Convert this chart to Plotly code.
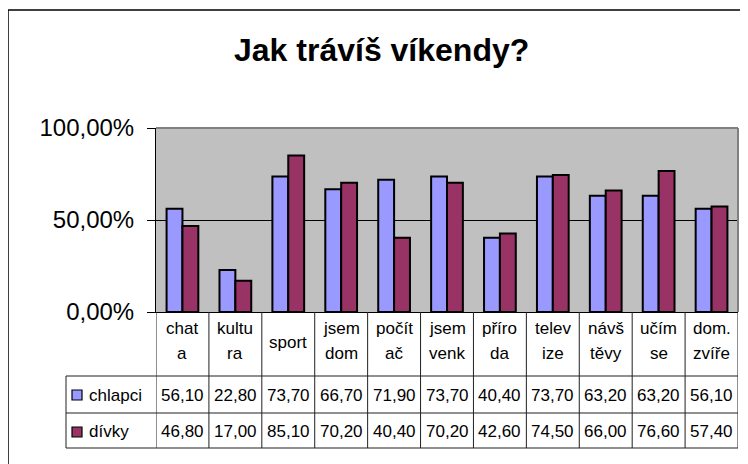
import plotly.graph_objects as go

categories = ["chata", "kultura", "sport", "jsem dom", "počítač", "jsem venk",
              "příroda", "televize", "návštěvy", "učím se", "dom. zvíře"]
header_lines = [["chat", "a"], ["kultu", "ra"], ["sport"], ["jsem", "dom"], ["počít", "ač"],
                ["jsem", "venk"], ["příro", "da"], ["telev", "ize"], ["návš", "těvy"],
                ["učím", "se"], ["dom.", "zvíře"]]
series_names = ["chlapci", "dívky"]
chlapci = [56.10, 22.80, 73.70, 66.70, 71.90, 73.70, 40.40, 73.70, 63.20, 63.20, 56.10]
divky = [46.80, 17.00, 85.10, 70.20, 40.40, 70.20, 42.60, 74.50, 66.00, 76.60, 57.40]
colors = ["#9999FF", "#993366"]
y_ticks = [0, 0.5, 1.0]

W, H = 748, 464
OFF = 8  # page body margin offset
L, R, T, B = 156 - OFF, 738 - OFF, 128 - OFF, 312 - OFF
FONT = "Liberation Sans, Arial, sans-serif"

def py(p):
    return (B - (p - OFF)) / (B - T)

def px(p):
    return ((p - OFF) - L) / (R - L)

n = len(categories)
xs = list(range(n))
fig = go.Figure()
for name, vals, col in zip(series_names, [chlapci, divky], colors):
    fig.add_trace(go.Bar(x=xs, y=[v / 100 for v in vals], name=name,
                         marker=dict(color=col, line=dict(color="black", width=2))))

shapes = []
line = dict(color="#202020", width=1)
# plot-area top/right border
shapes.append(dict(type="line", xref="paper", yref="paper", x0=0, x1=1, y0=1, y1=1,
                   line=dict(color="#808080", width=2)))
shapes.append(dict(type="line", xref="paper", yref="paper", x0=1, x1=1, y0=0, y1=1,
                   line=dict(color="#808080", width=2)))
# outer chart border
shapes.append(dict(type="line", xref="paper", yref="paper", x0=px(8), x1=px(760),
                   y0=py(10), y1=py(10), line=dict(color="black", width=1.5)))
shapes.append(dict(type="line", xref="paper", yref="paper", x0=px(8), x1=px(8),
                   y0=py(10), y1=py(480), line=dict(color="black", width=1.5)))
# table horizontal lines
for p in [376, 413, 448]:
    shapes.append(dict(type="line", xref="paper", yref="paper", x0=px(66), x1=1,
                       y0=py(p), y1=py(p), line=line))
# table vertical lines
shapes.append(dict(type="line", xref="paper", yref="paper", x0=px(66), x1=px(66),
                   y0=py(376), y1=py(448), line=line))
for i in range(n + 1):
    shapes.append(dict(type="line", xref="x", yref="paper", x0=i - 0.5, x1=i - 0.5,
                       y0=0, y1=py(448), line=line))
# legend keys
for rowc, col in zip([395, 432], colors):
    shapes.append(dict(type="rect", xref="paper", yref="paper", x0=px(72), x1=px(82),
                       y0=py(rowc - 5), y1=py(rowc + 5), fillcolor=col,
                       line=dict(color="black", width=1.2)))

ann = []
tf = dict(family=FONT, size=17, color="black")
for i, hl in enumerate(header_lines):
    ys = [342] if len(hl) == 1 else [328, 353]
    for t, yp in zip(hl, ys):
        ann.append(dict(x=i, xref="x", y=py(yp), yref="paper", text=t, showarrow=False,
                        font=tf, xanchor="center", yanchor="middle"))
for rowc, name, vals in zip([395, 431], series_names, [chlapci, divky]):
    ann.append(dict(x=px(87), xref="paper", y=py(rowc), yref="paper", text=name,
                    showarrow=False, font=tf, xanchor="left", yanchor="middle"))
    for i, v in enumerate(vals):
        ann.append(dict(x=i, xref="x", y=py(rowc), yref="paper",
                        text=f"{v:.2f}".replace(".", ","), showarrow=False, font=tf,
                        xanchor="center", yanchor="middle"))
# title
ann.append(dict(x=px(381), xref="paper", y=py(50), yref="paper", text="<b>Jak trávíš víkendy?</b>",
                showarrow=False, font=dict(family=FONT, size=32, color="black"),
                xanchor="center", yanchor="middle"))

fig.update_layout(
    width=W, height=H,
    margin=dict(l=L, r=W - R, t=T, b=H - B, pad=0),
    paper_bgcolor="white", plot_bgcolor="#C0C0C0",
    showlegend=False, separators=",.",
    barmode="group", bargap=0.4, bargroupgap=0,
    shapes=shapes, annotations=ann,
    font=dict(family=FONT, color="black"),
)
fig.update_xaxes(range=[-0.5, n - 0.5], showticklabels=False, showgrid=False,
                 showline=True, linecolor="black", linewidth=1, ticks="", zeroline=False,
                 fixedrange=True)
fig.update_yaxes(range=[0, 1], tickvals=y_ticks, tickformat=".2%", showgrid=True,
                 gridcolor="black", gridwidth=1, showline=True, linecolor="black",
                 linewidth=1, ticks="outside", ticklen=8, tickcolor="black",
                 tickfont=dict(family=FONT, size=24, color="black"), zeroline=False,
                 ticklabelstandoff=8)

fig.write_html("out.html")
